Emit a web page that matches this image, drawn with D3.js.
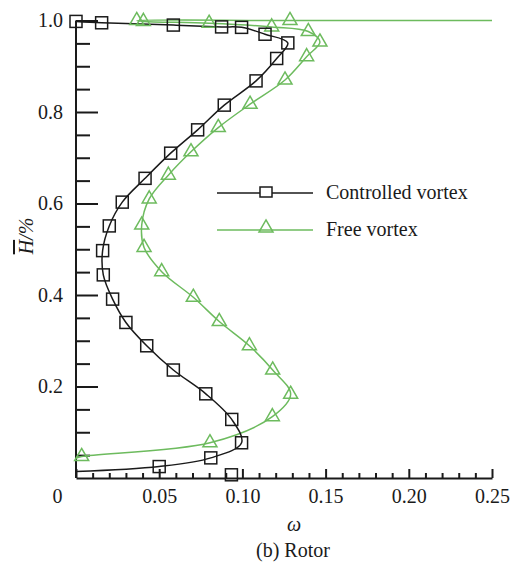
<!DOCTYPE html>
<meta charset="utf-8">
<style>
  body { margin: 0; background: #fff; }
  svg { display: block; font-family: "Liberation Serif", "Times New Roman", serif; }
  .axis text { font-family: "Liberation Serif", "Times New Roman", serif; font-size: 20px; fill: #1a1a1a; }
  .axis path, .axis line { stroke: #1a1a1a; stroke-width: 2px; }
  .ctrl { fill: none; stroke: #1a1a1a; stroke-width: 1.5px; }
  .free { fill: none; stroke: #6dbb5e; stroke-width: 1.5px; }
  .label { font-size: 20px; fill: #1a1a1a; }
</style>
<body>
<svg id="chart" width="512" height="562"></svg>
<script src="https://cdn.jsdelivr.net/npm/d3@7"></script>
<script>
// controlled vortex: markers from hub to tip, plus curve ends
var ctrlW = [0.050, 0.081, 0.0995, 0.0936, 0.078, 0.0585, 0.0425, 0.030, 0.022, 0.0164,
             0.016, 0.020, 0.0278, 0.0415, 0.0569, 0.0731, 0.0891, 0.1082, 0.1206, 0.1273,
             0.1136, 0.0995, 0.0875, 0.0585, 0.0154, 0.0];
var ctrlH = [0.025, 0.044, 0.077, 0.128, 0.184, 0.236, 0.289, 0.340, 0.391, 0.444,
             0.497, 0.551, 0.603, 0.655, 0.710, 0.761, 0.815, 0.868, 0.917, 0.951,
             0.970, 0.985, 0.986, 0.990, 0.995, 0.998];
var ctrlStart = [0, 0.014];
var ctrlStrayW = [0.0934], ctrlStrayH = [0.007];

// free vortex
var freeW = [0.0034, 0.0805, 0.118, 0.129, 0.1182, 0.1042, 0.0861, 0.0705, 0.0515, 0.0409,
             0.0395, 0.044, 0.0555, 0.0691, 0.0855, 0.1046, 0.1256, 0.1386, 0.1466, 0.1396,
             0.1176, 0.080, 0.0405, 0.0365, 0.1286];
var freeH = [0.047, 0.077, 0.134, 0.183, 0.236, 0.289, 0.342, 0.395, 0.451, 0.504,
             0.553, 0.610, 0.662, 0.713, 0.766, 0.817, 0.870, 0.921, 0.953, 0.976,
             0.986, 0.994, 0.998, 1.0, 1.0];
var freeStart = [0, 0.043], freeEnd = [0.25, 1.0];

var xMajor = [0, 0.05, 0.10, 0.15, 0.20, 0.25];
var yMajor = [0.2, 0.4, 0.6, 0.8, 1.0];
var seriesNames = ["Controlled vortex", "Free vortex"];

var svg = d3.select("#chart");
var x = d3.scaleLinear().domain([0, 0.25]).range([76, 492]);
var y = d3.scaleLinear().domain([0, 1]).range([478, 20.5]);

var xMinor = d3.range(1, 25).map(function(i) { return i / 100; })
  .filter(function(v) { return Math.abs(v * 20 - Math.round(v * 20)) > 1e-6; });
var yMinor = d3.range(1, 20).map(function(i) { return i / 20; })
  .filter(function(v) { return Math.abs(v * 5 - Math.round(v * 5)) > 1e-6; });

// bottom axis
var gx = svg.append("g").attr("class", "axis").attr("transform", "translate(0,478)");
gx.call(d3.axisBottom(x).tickValues(xMajor).tickSize(-9).tickSizeOuter(0).tickPadding(11)
  .tickFormat(function(d) { return d === 0 ? "0" : d3.format(".2f")(d); }));
gx.selectAll(".tick text").filter(function(d) { return d === 0; }).attr("x", -19);
svg.append("g").attr("class", "axis").attr("transform", "translate(0,478)")
  .call(d3.axisBottom(x).tickValues(xMinor).tickSize(-5).tickFormat(""))
  .select(".domain").remove();

// left axis
var gy = svg.append("g").attr("class", "axis").attr("transform", "translate(76,0)");
gy.call(d3.axisLeft(y).tickValues(yMajor).tickSize(-22).tickSizeOuter(0).tickPadding(13)
  .tickFormat(d3.format(".1f")));
gy.select(".domain").attr("d", "M0," + y(0) + "V" + y(1));
svg.append("g").attr("class", "axis").attr("transform", "translate(76,0)")
  .call(d3.axisLeft(y).tickValues(yMinor).tickSize(-14).tickFormat(""))
  .select(".domain").remove();

var line = d3.line()
  .x(function(d) { return x(d[0]); })
  .y(function(d) { return y(d[1]); })
  .curve(d3.curveCatmullRom.alpha(0.5));

var ctrlPts = ctrlW.map(function(w, i) { return [w, ctrlH[i]]; });
var freePts = freeW.map(function(w, i) { return [w, freeH[i]]; });

svg.append("path").attr("class", "free")
  .attr("d", line([freeStart].concat(freePts, [freeEnd])));
svg.append("path").attr("class", "ctrl")
  .attr("d", line([ctrlStart].concat(ctrlPts)));

var tri = d3.symbol().type(d3.symbolTriangle).size(85);
svg.selectAll(".freeMark").data(freePts).enter().append("path")
  .attr("class", "free freeMark")
  .attr("d", tri)
  .attr("transform", function(d) { return "translate(" + x(d[0]) + "," + y(d[1]) + ")"; });

var sq = 12;
var ctrlMarks = ctrlPts.concat(ctrlStrayW.map(function(w, i) { return [w, ctrlStrayH[i]]; }));
svg.selectAll(".ctrlMark").data(ctrlMarks).enter().append("rect")
  .attr("class", "ctrl ctrlMark")
  .attr("width", sq).attr("height", sq)
  .attr("x", function(d) { return x(d[0]) - sq / 2; })
  .attr("y", function(d) { return y(d[1]) - sq / 2; });

// legend
var leg = svg.append("g");
leg.append("line").attr("class", "ctrl").attr("x1", 217).attr("x2", 313).attr("y1", 193).attr("y2", 193);
leg.append("rect").attr("class", "ctrl").attr("x", 266 - sq / 2).attr("y", 193 - sq / 2)
  .attr("width", sq).attr("height", sq - 2).style("fill", "#fff");
leg.append("line").attr("class", "free").attr("x1", 217).attr("x2", 313).attr("y1", 230).attr("y2", 230);
leg.append("path").attr("class", "free").attr("d", tri).attr("transform", "translate(266,228)");
leg.selectAll("text.leg").data(seriesNames).enter().append("text")
  .attr("class", "label leg")
  .attr("x", 326)
  .attr("y", function(d, i) { return 199 + i * 37; })
  .text(function(d) { return d; });

// axis titles
var yt = svg.append("text").attr("class", "label")
  .attr("transform", "translate(33,236) rotate(-90)")
  .attr("text-anchor", "middle");
yt.append("tspan").attr("font-style", "italic").attr("text-decoration", "overline").text("H");
yt.append("tspan").attr("font-style", "italic").text("/%");

svg.append("text").attr("class", "label").attr("x", 294).attr("y", 531)
  .attr("text-anchor", "middle").attr("font-style", "italic").text("ω");
svg.append("text").attr("class", "label").attr("x", 293).attr("y", 557)
  .attr("text-anchor", "middle").text("(b) Rotor");
</script>
</body>
